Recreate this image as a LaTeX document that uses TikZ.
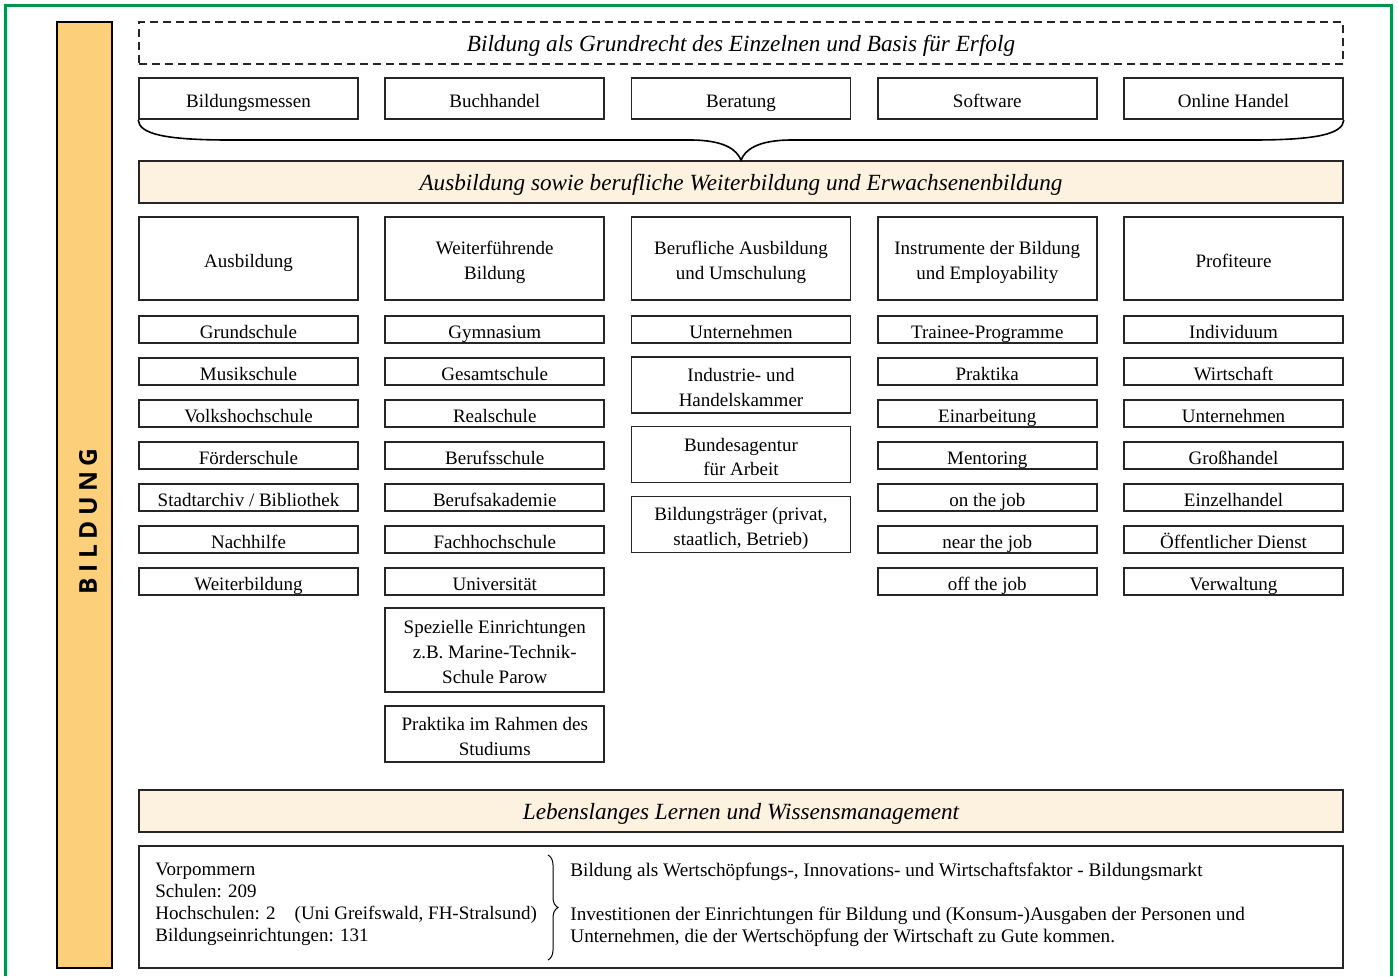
\documentclass[tikz,border=0pt]{standalone}
\usepackage{fontspec}
\setmainfont{Liberation Serif}
\newfontfamily\barfont[LetterSpace=22]{Open Sans}
\usetikzlibrary{decorations.pathreplacing}

\definecolor{framegreen}{RGB}{0,150,75}
\definecolor{barorange}{RGB}{252,207,123}
\definecolor{bandbeige}{RGB}{253,241,223}

\newcommand\topstrut{\rule{0pt}{1.15em}}
\newcommand\bandstrut{\rule{0pt}{0.95em}}
\newcommand\botstrut{\rule[-0.2em]{0pt}{0.2em}}

\tikzset{
  smallbox/.style={draw=black!85, line width=0.8pt, minimum width=109.5pt, minimum height=13.5pt,
    inner sep=0pt, align=center, font=\fontsize{9.5}{12.3}\selectfont,
    execute at begin node=\topstrut, execute at end node=\botstrut},
  headbox/.style={smallbox, minimum height=41.5pt},
  twobox/.style={smallbox, minimum height=28pt},
  twolines/.style={execute at begin node={\rule{0pt}{23pt}}},
  threelines/.style={execute at begin node={\rule{0pt}{35pt}}},
  band/.style={draw=black!85, line width=0.8pt, fill=bandbeige, minimum width=602pt, minimum height=21pt,
    inner sep=0pt, font=\fontsize{11.6}{14}\selectfont\itshape,
    execute at begin node=\bandstrut, execute at end node=\botstrut},
}

\begin{document}
\begin{tikzpicture}[x=0.5pt, y=-0.5pt]
    \useasboundingbox (0,0) rectangle (1398,976);
    \draw [framegreen, line width=1.5pt] (5,976) -- (5,5) -- (1391,5) -- (1391,976); % green frame, open at the bottom

    % the orange bar on the left
    \node [draw, line width=1.2pt, fill=barorange, minimum width=27.5pt, minimum height=473pt, inner sep=0pt] (bar) at (84.5,495) {};
    \node [rotate=90, font=\barfont\bfseries\fontsize{12.3}{14}\selectfont] (bartitle) at (88,521.5) {BILDUNG};

    % top part
    \node [band, fill=none, dashed, dash pattern=on 4pt off 2.5pt] (grundrecht) at (741,43) {Bildung als Grundrecht des Einzelnen und Basis für Erfolg};
    \node [smallbox, minimum height=20.5pt] (messen) at (248.5,98.5) {Bildungsmessen};
    \node [smallbox, minimum height=20.5pt] (buchhandel) at (494.75,98.5) {Buchhandel};
    \node [smallbox, minimum height=20.5pt] (beratung) at (741,98.5) {Beratung};
    \node [smallbox, minimum height=20.5pt] (software) at (987.25,98.5) {Software};
    \node [smallbox, minimum height=20.5pt] (online) at (1233.5,98.5) {Online Handel};
    \node [band] (ausbildung) at (741,182) {Ausbildung sowie berufliche Weiterbildung und Erwachsenenbildung};
    \draw [line width=0.8pt] (messen.south west) .. controls (139,134) and (165,140) .. (230,140) -- (690,140)
        .. controls (725,140) and (737,150) .. (ausbildung.north)
        .. controls (745,150) and (757,140) .. (792,140) -- (1252,140)
        .. controls (1317,140) and (1343,134) .. (online.south east); % the brace under the top row

    % column 1
    \node [headbox] (kopf1) at (248.5,258.5) {Ausbildung};
    \node [smallbox] (grund) at (248.5,329.5) {Grundschule};
    \node [smallbox] (musik) at (248.5,371.5) {Musikschule};
    \node [smallbox] (volks) at (248.5,413.5) {Volkshochschule};
    \node [smallbox] (foerder) at (248.5,455.5) {Förderschule};
    \node [smallbox] (archiv) at (248.5,497.5) {Stadtarchiv / Bibliothek};
    \node [smallbox] (nachhilfe) at (248.5,539.5) {Nachhilfe};
    \node [smallbox] (weiter) at (248.5,581.5) {Weiterbildung};

    % column 2
    \node [headbox, twolines] (kopf2) at (494.75,258.5) {Weiterführende\\Bildung};
    \node [smallbox] (gymnasium) at (494.75,329.5) {Gymnasium};
    \node [smallbox] (gesamt) at (494.75,371.5) {Gesamtschule};
    \node [smallbox] (real) at (494.75,413.5) {Realschule};
    \node [smallbox] (berufsschule) at (494.75,455.5) {Berufsschule};
    \node [smallbox] (akademie) at (494.75,497.5) {Berufsakademie};
    \node [smallbox] (fachhoch) at (494.75,539.5) {Fachhochschule};
    \node [smallbox] (uni) at (494.75,581.5) {Universität};
    \node [smallbox, threelines, minimum height=42pt] (speziell) at (494.75,650) {Spezielle Einrichtungen\\z.B. Marine-Technik-\\Schule Parow};
    \node [twobox, twolines] (studium) at (494.75,734) {Praktika im Rahmen des\\Studiums};

    % column 3
    \node [headbox, twolines] (kopf3) at (741,258.5) {Berufliche Ausbildung\\und Umschulung};
    \node [smallbox] (unternehmen3) at (741,329.5) {Unternehmen};
    \node [twobox, twolines] (ihk) at (741,385) {Industrie- und\\Handelskammer};
    \node [twobox, twolines] (agentur) at (741,454.5) {Bundesagentur\\für Arbeit};
    \node [twobox, twolines] (traeger) at (741,524.5) {Bildungsträger (privat,\\staatlich, Betrieb)};

    % column 4
    \node [headbox, twolines] (kopf4) at (987.25,258.5) {Instrumente der Bildung\\und Employability};
    \node [smallbox] (trainee) at (987.25,329.5) {Trainee-Programme};
    \node [smallbox] (praktika) at (987.25,371.5) {Praktika};
    \node [smallbox] (einarbeitung) at (987.25,413.5) {Einarbeitung};
    \node [smallbox] (mentoring) at (987.25,455.5) {Mentoring};
    \node [smallbox] (onjob) at (987.25,497.5) {on the job};
    \node [smallbox] (nearjob) at (987.25,539.5) {near the job};
    \node [smallbox] (offjob) at (987.25,581.5) {off the job};

    % column 5
    \node [headbox] (kopf5) at (1233.5,258.5) {Profiteure};
    \node [smallbox] (individuum) at (1233.5,329.5) {Individuum};
    \node [smallbox] (wirtschaft) at (1233.5,371.5) {Wirtschaft};
    \node [smallbox] (unternehmen5) at (1233.5,413.5) {Unternehmen};
    \node [smallbox] (gross) at (1233.5,455.5) {Großhandel};
    \node [smallbox] (einzel) at (1233.5,497.5) {Einzelhandel};
    \node [smallbox] (dienst) at (1233.5,539.5) {Öffentlicher Dienst};
    \node [smallbox] (verwaltung) at (1233.5,581.5) {Verwaltung};

    % bottom part
    \node [band] (lernen) at (741,811) {Lebenslanges Lernen und Wissensmanagement};
    \node [draw=black!85, line width=0.8pt, minimum width=602pt, minimum height=61pt, inner sep=0pt] (region) at (741,907) {};
    \node [anchor=north west, align=left, inner sep=0pt, font=\fontsize{9.5}{11}\selectfont] (zahlen) at (155,862.5)
        {Vorpommern\\Schulen: 209\\Hochschulen: 2\quad(Uni Greifswald, FH-Stralsund)\\Bildungseinrichtungen: 131};
    \node [anchor=north west, align=left, inner sep=0pt, font=\fontsize{9.6}{11}\selectfont] (markt) at (570,862.5)
        {Bildung als Wertschöpfungs-, Innovations- und Wirtschaftsfaktor - Bildungsmarkt\\[11pt]
         Investitionen der Einrichtungen für Bildung und (Konsum-)Ausgaben der Personen und\\
         Unternehmen, die der Wertschöpfung der Wirtschaft zu Gute kommen.};
    \coordinate (klammeroben) at (548,855);
    \coordinate (klammerunten) at (548,960);
    \draw [decorate, decoration={brace, amplitude=5pt}, line width=0.5pt] (klammeroben) -- (klammerunten); % brace between the two texts
\end{tikzpicture}
\end{document}
